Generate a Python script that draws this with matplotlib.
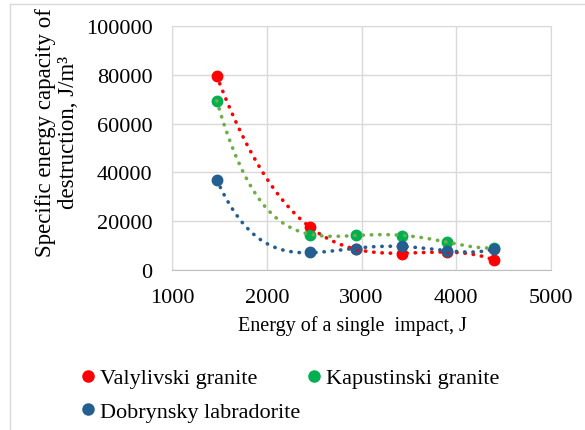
import numpy as np
import matplotlib
matplotlib.use("Agg")
import matplotlib.pyplot as plt
from matplotlib.lines import Line2D

plt.rcParams['font.family'] = ['Liberation Serif', 'DejaVu Serif']

# Energy of a single impact, J
energy = [1472, 2456, 2939, 3424, 3906, 4398]

# Specific energy capacity of destruction, J/m3
valylivski = [79600, 17500, 8800, 6600, 7500, 4100]
kapustinski = [69400, 14500, 14500, 13800, 11600, 9000]
dobrynsky = [37000, 7200, 8600, 10000, 7700, 8600]

series = [
    ("Valylivski granite", valylivski, "#FF0000", "#FF0000"),
    ("Kapustinski granite", kapustinski, "#00B050", "#70AD47"),
    ("Dobrynsky labradorite", dobrynsky, "#255E91", "#255E91"),
]

fig = plt.figure(figsize=(5.85, 4.31), dpi=100)
ax = fig.add_axes([172 / 585, 1 - 271 / 431, (551 - 172) / 585, (271 - 27) / 431])

x = np.array(energy, dtype=float)
xs = np.linspace(x.min(), x.max(), 300)

# markers first, polynomial trendlines on top
for name, vals, mc, tc in series:
    ax.plot(x, vals, linestyle="none", marker="o", ms=7.5, color=mc, zorder=3)
for name, vals, mc, tc in series:
    coef = np.polyfit(x, np.array(vals, dtype=float), 4)
    ax.plot(xs, np.polyval(coef, xs), linestyle=(0, (0.1, 2.2)), dash_capstyle="round",
            lw=2.6, color=tc, zorder=4)

ax.set_xlim(1000, 5000)
ax.set_ylim(0, 100000)
ax.set_xticks([1000, 2000, 3000, 4000, 5000])
ax.set_yticks([0, 20000, 40000, 60000, 80000, 100000])
ax.grid(True, color="#D9D9D9", lw=1)
ax.set_axisbelow(True)
for s in ax.spines.values():
    s.set_color("#D9D9D9")
ax.spines["bottom"].set_color("#BFBFBF")
ax.tick_params(length=0, labelsize=16, colors="black")
ax.tick_params(axis="y", pad=14)
ax.tick_params(axis="x", pad=13)

ax.set_xlabel("Energy of a single  impact, J", fontsize=14.5)
ax.xaxis.set_label_coords(0.475, -0.185)
ax.set_ylabel("Specific energy capacity of\ndestruction, J/m\u00b3", fontsize=16.5,
              linespacing=1.15)
ax.yaxis.set_label_coords(-0.245, 0.566)

# legend laid out row by row
handles = [Line2D([], [], linestyle="none", marker="o", ms=8, color=mc)
           for _, _, mc, _ in series]
order = [0, 2, 1]
fig.legend([handles[i] for i in order], [series[i][0] for i in order],
           loc="upper left", bbox_to_anchor=(68 / 585, 1 - 360 / 431), ncol=2,
           frameon=False, fontsize=16, handletextpad=0.05, handlelength=1.0,
           columnspacing=0.1, labelspacing=0.58, borderaxespad=0)

# chart area border (top and left edges)
fig.add_artist(Line2D([10 / 585, 10 / 585], [0, 1 - 5 / 431], transform=fig.transFigure,
                      color="#D9D9D9", lw=1))
fig.add_artist(Line2D([10 / 585, 1], [1 - 5 / 431, 1 - 5 / 431], transform=fig.transFigure,
                      color="#D9D9D9", lw=1))

fig.savefig("out.png", dpi=100)
